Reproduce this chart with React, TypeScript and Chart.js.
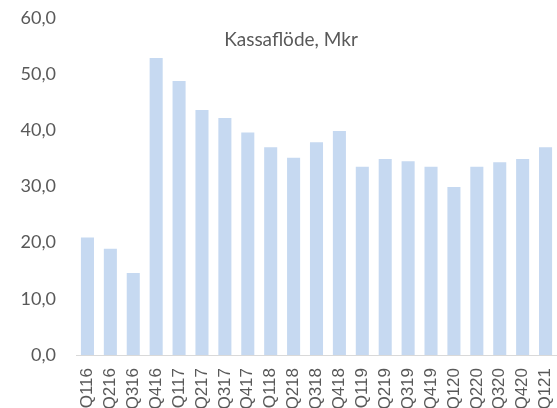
import React, { useEffect, useRef } from "react";
import { Chart, registerables } from "chart.js";

Chart.register(...registerables);

const categories = ["Q116","Q216","Q316","Q416","Q117","Q217","Q317","Q417","Q118","Q218","Q318","Q418","Q119","Q219","Q319","Q419","Q120","Q220","Q320","Q420","Q121"];
const cashflow = [20.9, 18.9, 14.6, 52.9, 48.8, 43.6, 42.2, 39.6, 37.0, 35.1, 37.9, 39.9, 33.5, 34.9, 34.5, 33.5, 29.9, 33.5, 34.3, 34.9, 37.0];
const titleText = "Kassaflöde, Mkr";
const yMin = 0;
const yMax = 60;
const yStep = 10;

const titlePlugin = {
  id: "innerTitle",
  afterDraw(chart: any) {
    const ctx = chart.ctx;
    ctx.save();
    ctx.font = "19px Lato";
    ctx.fillStyle = "#595959";
    ctx.textAlign = "center";
    ctx.textBaseline = "middle";
    ctx.fillText(titleText, 291, 40);
    ctx.restore();
  },
};

export default function App() {
  const ref = useRef<HTMLCanvasElement>(null);
  useEffect(() => {
    const chart = new Chart(ref.current!, {
      type: "bar",
      data: {
        labels: categories,
        datasets: [
          {
            data: cashflow,
            backgroundColor: "#c6d9f1",
            borderWidth: 0,
            barPercentage: 0.57,
            categoryPercentage: 1,
          },
        ],
      },
      options: {
        responsive: false,
        animation: false,
        layout: { padding: { top: 18, right: 0, left: 0, bottom: 0 } },
        plugins: { legend: { display: false }, tooltip: { enabled: false }, title: { display: false } },
        scales: {
          x: {
            grid: { display: false, drawTicks: false },
            border: { display: true, color: "#d9d9d9", width: 1 },
            ticks: {
              maxRotation: 90,
              minRotation: 90,
              autoSkip: false,
              padding: 13,
              color: "#595959",
              font: { family: "Liberation Sans", size: 17 },
            },
            afterFit(scale: any) {
              scale.height = 53;
              scale.paddingRight = 0;
              scale.paddingLeft = 0;
            },
          },
          y: {
            min: yMin,
            max: yMax,
            grid: { display: false, drawTicks: false },
            border: { display: false },
            ticks: {
              stepSize: yStep,
              padding: 20,
              color: "#595959",
              font: { family: "Lato", size: 18 },
              callback: (v: any) => Number(v).toFixed(1).replace(".", ","),
            },
            afterFit(scale: any) {
              scale.width = 76;
              scale.paddingTop = 0;
              scale.paddingBottom = 0;
            },
          },
        },
      },
      plugins: [titlePlugin],
    });
    return () => chart.destroy();
  }, []);
  return (
    <div style={{ position: "absolute", left: 0, top: 0, width: 557, height: 408, background: "#fff" }}>
      <canvas ref={ref} width={557} height={408} />
    </div>
  );
}
